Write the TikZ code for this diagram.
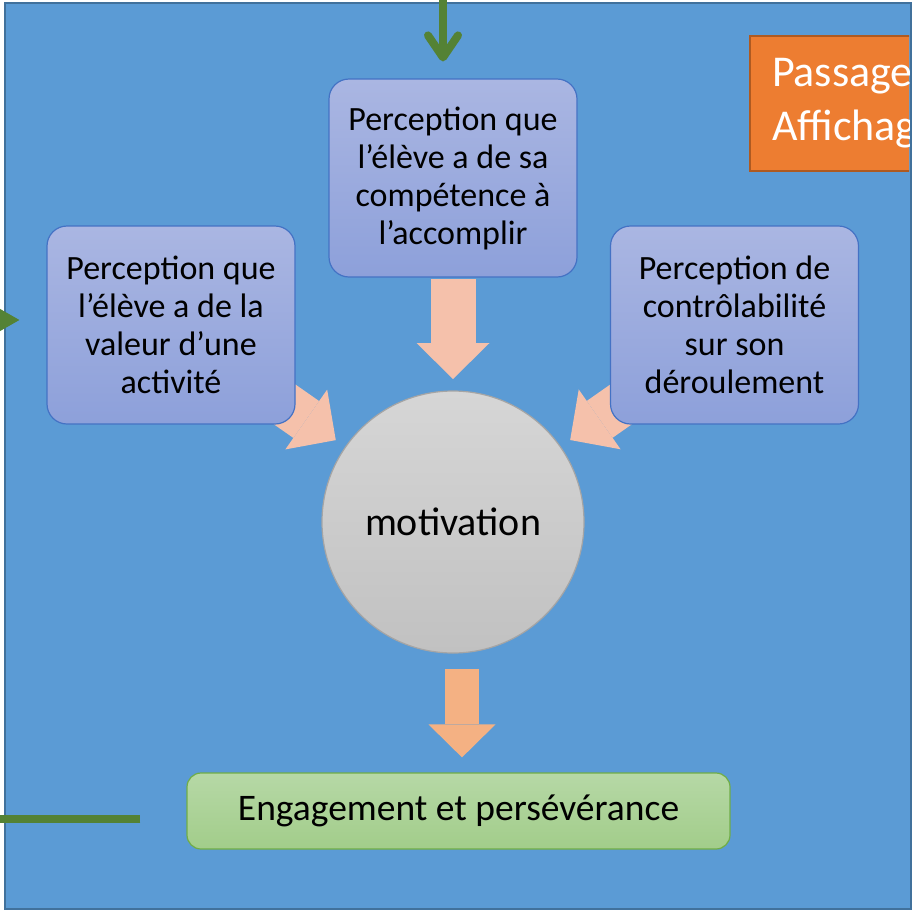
\documentclass[tikz,border=0pt]{standalone}
\usepackage{fontspec}
\setmainfont{Carlito}
\usetikzlibrary{arrows.meta,calc}
\pgfdeclarelayer{back}
\pgfdeclarelayer{under}
\pgfsetlayers{back,under,main}

\begin{document}
\begin{tikzpicture}[x=1pt,y=-1pt,
  percnode/.style={rectangle,rounded corners=20pt,draw=boxline,line width=1.2pt,
    top color=boxtop,bottom color=boxbot,minimum width=248pt,minimum height=198pt,
    inner sep=0pt,align=center,font=\fontsize{34}{38}\selectfont},
  arrw/.style={line width=45pt,draw=peach,-{Triangle[width=73pt,length=36pt,line width=0pt]}},
  downarrw/.style={line width=34pt,draw=peachdk,-{Triangle[width=67pt,length=33pt,line width=0pt]}},
  gline/.style={draw=leaf,line width=8pt}]
\definecolor{frame}{HTML}{5B9BD5}
\definecolor{frameline}{HTML}{41719C}
\definecolor{boxtop}{HTML}{AAB6E2}
\definecolor{boxbot}{HTML}{8DA0DA}
\definecolor{boxline}{HTML}{4472C4}
\definecolor{disctop}{HTML}{D6D6D6}
\definecolor{discbot}{HTML}{C1C1C1}
\definecolor{discline}{HTML}{A5A5A5}
\definecolor{grtop}{HTML}{B6D8A6}
\definecolor{grbot}{HTML}{A2CD8A}
\definecolor{grline}{HTML}{70AD47}
\definecolor{peach}{HTML}{F5C1AB}
\definecolor{peachdk}{HTML}{F4B183}
\definecolor{leaf}{HTML}{548235}
\definecolor{orng}{HTML}{ED7D31}
\definecolor{orngline}{HTML}{AE5A21}

\useasboundingbox (0,0) rectangle (913,911);
\clip (0,0) rectangle (913,911);

\begin{pgfonlayer}{back}
  \fill[white] (0,0) rectangle (913,911);
  \draw[fill=frame,draw=frameline,line width=2pt] (5,3) rectangle (911,909);
\end{pgfonlayer}

\begin{scope}
  \clip (0,0) rectangle (909,911);
  \node[anchor=north west,minimum height=135pt,fill=orng,
    draw=orngline,line width=2pt,text=white,align=left,inner xsep=22pt,
    font=\fontsize{44}{54}\selectfont] (pass) at (749,35) {Passage\\Affichage};
\end{scope}

\node[percnode] (pcomp) at (453,178) {Perception que\\l’élève a de sa\\compétence à\\l’accomplir};
\node[percnode] (pval) at (171,325) {Perception que\\l’élève a de la\\valeur d’une\\activité};
\node[percnode] (pctrl) at (734.5,325) {Perception de\\contrôlabilité\\sur son\\déroulement};

\node[circle,minimum size=262pt,inner sep=0pt,top color=disctop,bottom color=discbot,
  draw=discline,line width=1.2pt,font=\fontsize{40}{48}\selectfont] (motiv) at (453,522) {motivation};

\node[rectangle,rounded corners=14pt,minimum width=543pt,minimum height=76pt,
  top color=grtop,bottom color=grbot,draw=grline,line width=1.2pt,
  font=\fontsize{37.5}{45}\selectfont] (peng) at (458.5,811) {Engagement et persévérance};

\begin{pgfonlayer}{under}
  \foreach \src in {pval,pcomp,pctrl}
  {  \draw[arrw] ($(motiv)!243pt!(\src)$) -- ($(motiv)!143pt!(\src)$);}
\end{pgfonlayer}
\draw[downarrw] ($(motiv.south)+(9,15)$) -- ($(peng.north)+(3.5,-15)$);

\coordinate (gtop) at (443,-30);
\coordinate (gleft) at (-80,320);
\draw[gline,-{Straight Barb[round,length=22pt,width=30pt]}] (gtop) -- ($(pcomp.north)+(-10,-17)$);
\draw[gline,-{Triangle[width=24pt,length=21pt,line width=0pt]}] (gleft) -- ($(pval.west)+(-27,-5)$);
\draw[gline] ($(peng.west)+(-46,8)$) -- ++(-200,0);
\end{tikzpicture}
\end{document}
